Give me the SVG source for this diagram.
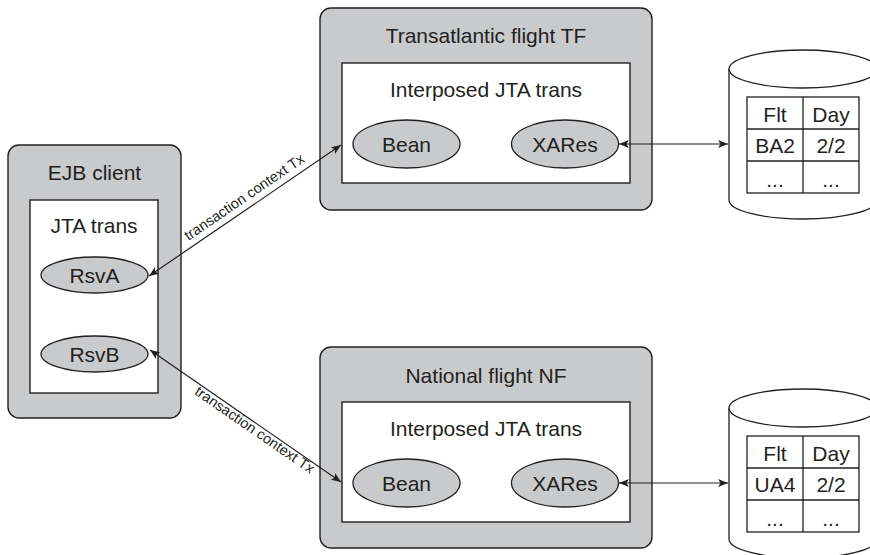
<svg xmlns="http://www.w3.org/2000/svg" width="870" height="555" viewBox="0 0 870 555">
<defs>
<style>
.outer{fill:#c9cacc;stroke:#231f20;stroke-width:1.4}
.inner{fill:#fff;stroke:#231f20;stroke-width:1.4}
.ell{fill:#c9cacc;stroke:#231f20;stroke-width:1.3}
.db{fill:#fff;stroke:#231f20;stroke-width:1.3}
.cell{fill:none;stroke:#231f20;stroke-width:1.3}
text{font-family:"Liberation Sans",Arial,sans-serif;fill:#231f20;text-anchor:middle}
.t{font-size:21px}
.s{font-size:14.5px}
.conn{stroke:#231f20;stroke-width:1.2;fill:none;marker-start:url(#ah);marker-end:url(#ah)}
</style>
<marker id="ah" viewBox="0 0 10 8" refX="10" refY="4" markerWidth="10" markerHeight="8" markerUnits="userSpaceOnUse" orient="auto-start-reverse">
<path d="M0,0 L10,4 L0,8 L2.5,4 Z" fill="#231f20"/>
</marker>
</defs>

<g id="ejb-client">
<rect class="outer" x="8" y="145" width="173" height="273" rx="11"/>
<text class="t" x="94.5" y="180">EJB client</text>
<rect class="inner" x="30" y="200" width="128" height="193"/>
<text class="t" x="94" y="233">JTA trans</text>
<g id="rsvA"><ellipse class="ell" cx="94.5" cy="275" rx="53.5" ry="18"/><text class="t" x="94.5" y="283">RsvA</text></g>
<g id="rsvB"><ellipse class="ell" cx="94.5" cy="354" rx="53.5" ry="18"/><text class="t" x="94.5" y="362">RsvB</text></g>
</g>

<g id="transatlantic-flight">
<rect class="outer" x="320" y="8" width="332" height="202" rx="11"/>
<text class="t" x="486" y="43">Transatlantic flight TF</text>
<rect class="inner" x="342" y="63" width="288" height="120"/>
<text class="t" x="486" y="97">Interposed JTA trans</text>
<g id="tf-bean"><ellipse class="ell" cx="406.5" cy="144" rx="53.5" ry="24"/><text class="t" x="406.5" y="152">Bean</text></g>
<g id="tf-xares"><ellipse class="ell" cx="565" cy="144" rx="53.5" ry="24"/><text class="t" x="565" y="152">XARes</text></g>
</g>

<g id="national-flight">
<rect class="outer" x="320" y="347" width="332" height="201" rx="11"/>
<text class="t" x="486" y="383">National flight NF</text>
<rect class="inner" x="342" y="402" width="288" height="120"/>
<text class="t" x="486" y="436">Interposed JTA trans</text>
<g id="nf-bean"><ellipse class="ell" cx="406.5" cy="483" rx="53.5" ry="24"/><text class="t" x="406.5" y="491">Bean</text></g>
<g id="nf-xares"><ellipse class="ell" cx="565" cy="483" rx="53.5" ry="24"/><text class="t" x="565" y="491">XARes</text></g>
</g>

<g id="db-tf">
<path class="db" d="M729,69 L729,200 A74,19 0 0 0 877,200 L877,69"/>
<ellipse class="db" cx="803" cy="69" rx="74" ry="19"/>
<rect class="cell" x="747" y="97" width="112" height="96"/>
<line class="cell" x1="747" y1="129" x2="859" y2="129"/>
<line class="cell" x1="747" y1="161" x2="859" y2="161"/>
<line class="cell" x1="803" y1="97" x2="803" y2="193"/>
<text class="t" x="775" y="122">Flt</text><text class="t" x="831" y="122">Day</text>
<text class="t" x="775" y="153">BA2</text><text class="t" x="831" y="153">2/2</text>
<text class="t" x="775" y="187">...</text><text class="t" x="831" y="187">...</text>
</g>

<g id="db-nf">
<path class="db" d="M729,408 L729,539 A74,19 0 0 0 877,539 L877,408"/>
<ellipse class="db" cx="803" cy="408" rx="74" ry="19"/>
<rect class="cell" x="747" y="436" width="112" height="96"/>
<line class="cell" x1="747" y1="468" x2="859" y2="468"/>
<line class="cell" x1="747" y1="500" x2="859" y2="500"/>
<line class="cell" x1="803" y1="436" x2="803" y2="532"/>
<text class="t" x="775" y="461">Flt</text><text class="t" x="831" y="461">Day</text>
<text class="t" x="775" y="492">UA4</text><text class="t" x="831" y="492">2/2</text>
<text class="t" x="775" y="526">...</text><text class="t" x="831" y="526">...</text>
</g>

<g id="connectors">
<line class="conn" x1="149" y1="276" x2="341" y2="145"/>
<text class="s" transform="translate(247,201) rotate(-34.3)">transaction context Tx</text>
<line class="conn" x1="150" y1="350" x2="341" y2="482"/>
<text class="s" transform="translate(252,434) rotate(34.6)">transaction context Tx</text>
<line class="conn" x1="619" y1="144" x2="728" y2="144"/>
<line class="conn" x1="619" y1="483" x2="728" y2="483"/>
</g>
</svg>
